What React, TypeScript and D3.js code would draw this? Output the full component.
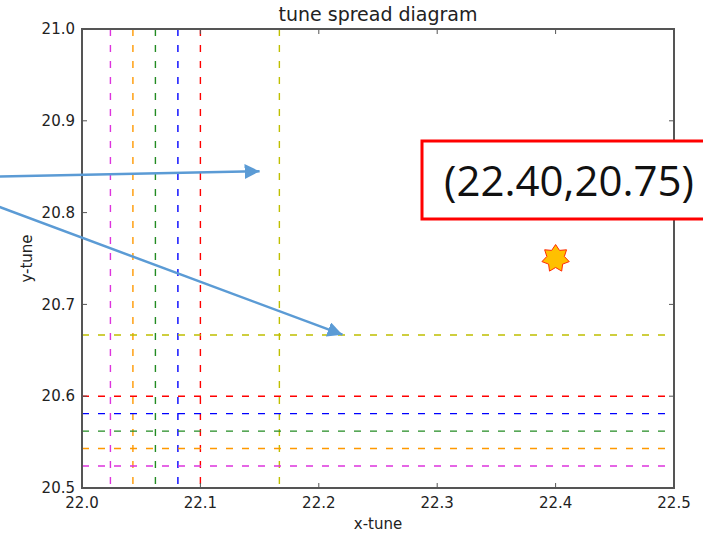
import React from "react";
import * as d3 from "d3";

// Tune-spread lines: vertical lines at fixed x-tune, horizontal lines at fixed y-tune
const xTuneLines = [22.024, 22.043, 22.062, 22.081, 22.1, 22.1667];
const yTuneLines = [20.524, 20.543, 20.562, 20.581, 20.6, 20.6667];
const lineColors = ["#dd33dd", "#ff9900", "#228b22", "#0000ff", "#ff0000", "#bfbf00"];

const xTicks = [22.0, 22.1, 22.2, 22.3, 22.4, 22.5];
const yTicks = [20.5, 20.6, 20.7, 20.8, 20.9, 21.0];

// Working point
const workX = 22.4;
const workY = 20.75;

// Callout arrow tips (data coordinates)
const arrowTips = [
  { x: 22.15, y: 20.845, startY: 20.839 },
  { x: 22.22, y: 20.667, startY: 20.81 },
];

const W = 703;
const H = 534;
const M = { left: 82, right: 674, top: 29, bottom: 488 };

export default function App() {
  const x = d3.scaleLinear().domain([22.0, 22.5]).range([M.left, M.right]);
  const y = d3.scaleLinear().domain([20.5, 21.0]).range([M.bottom, M.top]);

  const font = "DejaVu Sans, sans-serif";
  const axisColor = "#555";

  // 7-point star for the working point
  const starPts: [number, number][] = [];
  const nPts = 7;
  for (let i = 0; i < nPts * 2; i++) {
    const r = i % 2 === 0 ? 14 : 9;
    const a = -Math.PI / 2 + (i * Math.PI) / nPts;
    starPts.push([x(workX) + r * Math.cos(a), y(workY) + r * Math.sin(a)]);
  }
  const starPath = d3.line()(starPts) + "Z";

  const arrowColor = "#5b9bd5";

  return (
    <svg width={W} height={H} style={{ position: "absolute", left: 0, top: 0, background: "#fff" }}>
      <defs>
        <marker id="ahead" viewBox="0 0 10 10" refX="10" refY="5" markerWidth="6" markerHeight="6" markerUnits="strokeWidth" orient="auto">
          <path d="M0,0 L10,5 L0,10 Z" fill={arrowColor} />
        </marker>
        <clipPath id="plotClip">
          <rect x={M.left} y={M.top} width={M.right - M.left} height={M.bottom - M.top} />
        </clipPath>
      </defs>

      <g clipPath="url(#plotClip)">
        {xTuneLines.map((v, i) => (
          <line key={"v" + i} x1={x(v)} x2={x(v)} y1={M.top} y2={M.bottom}
            stroke={lineColors[i]} strokeWidth={1.4} strokeDasharray="7,9" />
        ))}
        {yTuneLines.map((v, i) => (
          <line key={"h" + i} x1={M.left} x2={M.right} y1={y(v)} y2={y(v)}
            stroke={lineColors[i]} strokeWidth={1.4} strokeDasharray="7,9" />
        ))}
      </g>

      {/* frame */}
      <rect x={M.left} y={M.top} width={M.right - M.left} height={M.bottom - M.top}
        fill="none" stroke={axisColor} strokeWidth={2} />

      {/* ticks, pointing inward on all four sides */}
      {xTicks.map((t, i) => (
        <g key={"xt" + i}>
          <line x1={x(t)} x2={x(t)} y1={M.bottom} y2={M.bottom - 5} stroke={axisColor} strokeWidth={1} />
          <line x1={x(t)} x2={x(t)} y1={M.top} y2={M.top + 5} stroke={axisColor} strokeWidth={1} />
          <text x={x(t)} y={M.bottom + 20} fontFamily={font} fontSize={15} textAnchor="middle" fill="#222">
            {t.toFixed(1)}
          </text>
        </g>
      ))}
      {yTicks.map((t, i) => (
        <g key={"yt" + i}>
          <line x1={M.left} x2={M.left + 5} y1={y(t)} y2={y(t)} stroke={axisColor} strokeWidth={1} />
          <line x1={M.right} x2={M.right - 5} y1={y(t)} y2={y(t)} stroke={axisColor} strokeWidth={1} />
          <text x={M.left - 7} y={y(t)} dy="0.35em" fontFamily={font} fontSize={15} textAnchor="end" fill="#222">
            {t.toFixed(1)}
          </text>
        </g>
      ))}

      <text x={378} y={21} fontFamily={font} fontSize={19} textAnchor="middle" fill="#222">
        tune spread diagram
      </text>
      <text x={378} y={529} fontFamily={font} fontSize={15} textAnchor="middle" fill="#222">
        x-tune
      </text>
      <text transform={`translate(32,${(M.top + M.bottom) / 2}) rotate(-90)`} fontFamily={font} fontSize={15}
        textAnchor="middle" fill="#222">
        y-tune
      </text>

      {/* callout arrows */}
      {arrowTips.map((a, i) => (
        <line key={"ar" + i} x1={-10} y1={y(a.startY)} x2={x(a.x)} y2={y(a.y)}
          stroke={arrowColor} strokeWidth={2.5} markerEnd="url(#ahead)" />
      ))}

      {/* working point */}
      <path d={starPath} fill="#ffc000" stroke="#ff2a00" strokeWidth={1} />

      {/* label box */}
      <rect x={422} y={141} width={300} height={78} fill="#fff" stroke="#ff0000" strokeWidth={3} />
      <text x={569} y={196} fontFamily="Open Sans, sans-serif" fontSize={42} textAnchor="middle" fill="#111">
        ({workX.toFixed(2)},{workY.toFixed(2)})
      </text>
    </svg>
  );
}
